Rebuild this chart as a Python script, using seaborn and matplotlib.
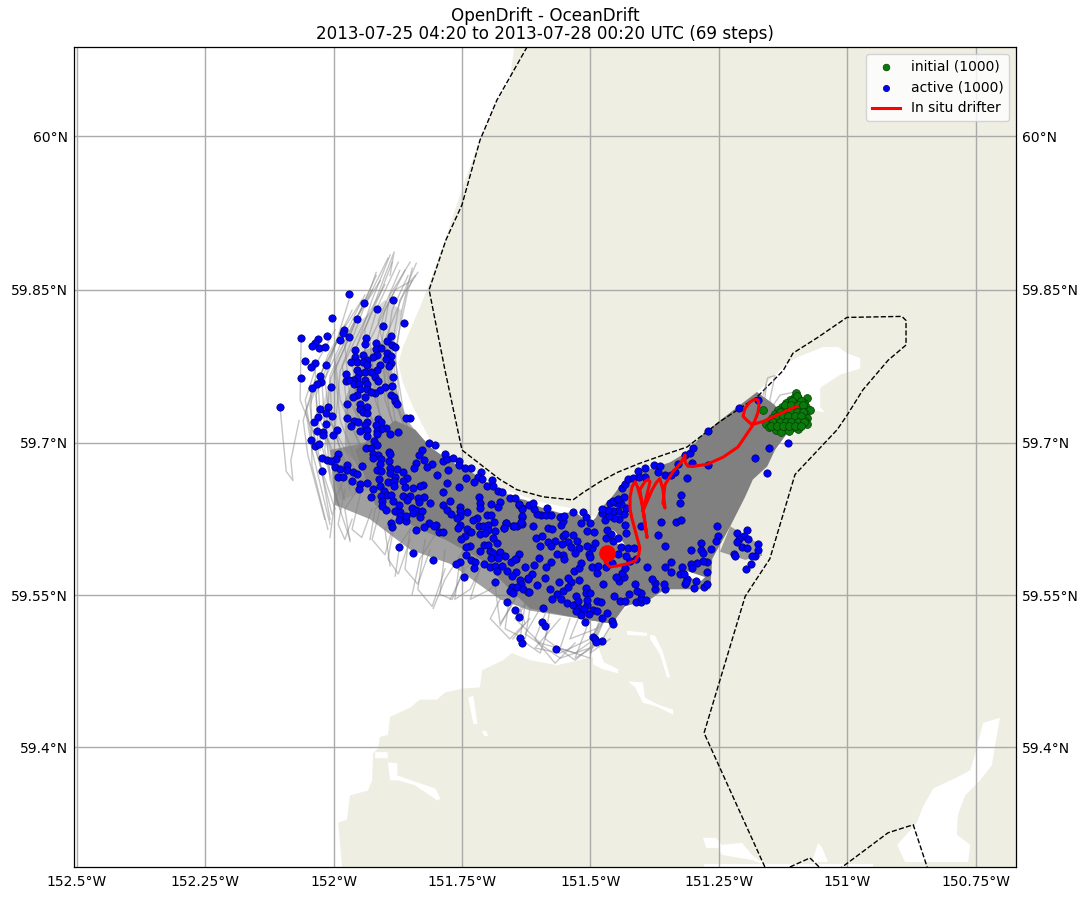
import numpy as np
import pandas as pd
import seaborn as sns
import matplotlib
matplotlib.use('Agg')
import matplotlib.pyplot as plt

# all longitudes are degrees west
lon_ticks = [152.5, 152.25, 152.0, 151.75, 151.5, 151.25, 151.0, 150.75]
lon_labels = ['152.5°W', '152.25°W', '152°W', '151.75°W', '151.5°W', '151.25°W', '151°W', '150.75°W']
lat_ticks = [59.4, 59.55, 59.7, 59.85, 60.0]
lat_labels = ['59.4°N', '59.55°N', '59.7°N', '59.85°N', '60°N']

initial_lon = [151.100, 151.104, 151.096, 151.112, 151.100, 151.079, 151.119, 151.108, 151.096, 151.084,
	151.127, 151.116, 151.104, 151.092, 151.081, 151.135, 151.123, 151.112, 151.100, 151.088, 151.073,
	151.141, 151.129, 151.117, 151.106, 151.094, 151.083, 151.147, 151.135, 151.123, 151.112, 151.100,
	151.088, 151.079, 151.152, 151.141, 151.129, 151.117, 151.106, 151.094, 151.083, 151.158, 151.147,
	151.135, 151.123, 151.112, 151.100, 151.088, 151.079, 151.152, 151.141, 151.129, 151.117, 151.106,
	151.094, 151.139, 151.129, 151.114, 151.096, 151.164,
	151.098, 151.107, 151.090, 151.121, 151.109, 151.097, 151.086, 151.131, 151.120, 151.109, 151.098,
	151.087, 151.138, 151.126, 151.115, 151.103, 151.091, 151.144, 151.132, 151.120, 151.109, 151.097,
	151.085, 151.149, 151.138, 151.126, 151.114, 151.103, 151.091]
initial_lat = [59.749, 59.744, 59.744, 59.742, 59.742, 59.744, 59.739, 59.739, 59.739, 59.739,
	59.735, 59.735, 59.735, 59.735, 59.735, 59.732, 59.732, 59.732, 59.732, 59.732, 59.732,
	59.728, 59.728, 59.728, 59.728, 59.728, 59.728, 59.724, 59.724, 59.724, 59.724, 59.724,
	59.724, 59.724, 59.722, 59.722, 59.722, 59.722, 59.722, 59.722, 59.722, 59.719, 59.719,
	59.719, 59.719, 59.719, 59.719, 59.719, 59.719, 59.716, 59.716, 59.716, 59.716, 59.716,
	59.716, 59.713, 59.711, 59.712, 59.714, 59.732,
	59.746, 59.741, 59.741, 59.737, 59.737, 59.737, 59.737, 59.730, 59.730, 59.730, 59.730,
	59.730, 59.726, 59.726, 59.726, 59.726, 59.726, 59.721, 59.721, 59.721, 59.721, 59.721,
	59.721, 59.717, 59.717, 59.717, 59.717, 59.717, 59.717]

active_lon = [
	151.970, 151.941, 151.884, 151.915, 152.003, 151.954, 151.863, 151.904, 151.980, 151.982,
	152.063, 152.013, 151.970, 152.030, 151.987, 151.937, 151.888, 151.896, 152.036, 152.042,
	152.028, 152.017, 151.939, 151.917, 151.886, 151.880, 151.958, 151.917, 151.908, 151.896,
	151.888, 151.943, 151.958, 151.915, 151.923, 151.935, 151.898, 152.055, 152.036, 152.044,
	152.015, 151.966, 151.954, 151.943, 151.935, 151.888, 151.892, 151.909, 151.915, 151.954,
	151.950, 151.939, 151.927, 151.976, 152.063, 152.026, 151.884, 151.919, 151.954, 151.962,
	151.976, 151.970, 151.939, 151.913, 152.024, 152.032, 152.042, 152.005, 151.960, 151.950,
	151.935, 151.900, 151.886, 151.948, 151.935, 151.909, 151.919, 151.927, 151.954, 151.962,
	151.939, 151.888, 151.882, 151.880, 151.876, 151.974, 151.948, 151.935, 152.011, 152.026,
	151.948, 151.943, 152.104, 152.015, 152.003, 152.030, 151.935, 151.974, 151.851, 151.859,
	151.913, 152.038, 151.960, 151.952, 151.908, 151.935, 152.015, 151.966, 151.939, 151.917,
	151.898, 151.908, 152.032, 152.020, 151.993, 151.948, 151.935, 151.915, 151.874, 151.890,
	152.020, 152.001, 151.935, 151.915, 152.044, 152.036, 152.028, 151.921, 151.915, 151.937,
	151.927, 151.814, 151.802, 151.828, 151.834, 151.892, 151.923, 151.913, 151.890, 151.783,
	151.991, 152.022, 152.013, 151.995, 152.005, 151.923, 151.908, 151.824, 151.787, 151.779,
	151.767, 151.756, 151.892, 151.909, 151.840, 151.808, 151.945, 151.997, 151.974, 151.756,
	151.744, 151.732, 151.843, 151.818, 151.777, 151.890, 151.915, 151.908, 151.987, 151.974,
	151.962, 152.022, 151.876, 151.865, 151.713, 151.890, 151.954, 151.991, 151.982, 151.719,
	151.799, 151.742, 151.711, 151.691, 151.911, 151.880, 151.857, 151.964, 151.727, 151.779,
	151.935, 151.894, 151.882, 151.865, 151.948, 151.701, 151.690, 151.826, 151.909, 151.882,
	151.861, 151.832, 151.756, 151.950, 151.845, 151.923, 151.902, 151.787, 151.680, 151.672,
	151.896, 151.717, 151.927, 151.908, 151.888, 151.865, 151.851, 151.824, 151.836, 151.657,
	151.647, 151.773, 151.676, 151.857, 151.906, 151.884, 151.812, 151.834, 151.787, 151.693,
	151.715, 151.639, 151.906, 151.873, 151.680, 151.715, 151.754, 151.633, 151.847, 151.898,
	151.880, 151.871, 151.779, 151.840, 151.828, 151.740, 151.754, 151.771, 151.845, 151.701,
	151.693, 151.871, 151.832, 151.754, 151.760, 151.633, 151.721, 151.729, 151.873, 151.859,
	151.859, 151.888, 151.633, 151.688, 151.664, 151.800, 151.814, 151.754, 151.717, 151.709,
	151.699, 151.651, 151.643, 151.668, 151.886, 151.824, 151.758, 151.804, 151.740, 151.840,
	151.699, 151.686, 151.732, 151.795, 151.787, 151.715, 151.705, 151.744, 151.752, 151.690,
	151.682, 151.707, 151.699, 151.734, 151.742, 151.873, 151.715, 151.695, 151.690, 151.676,
	151.845, 151.639, 151.742, 151.666, 151.693, 151.680, 151.645, 151.806, 151.655, 151.732,
	151.725, 151.754, 151.762, 151.707, 151.727, 151.695, 151.686, 151.672, 151.627, 151.682,
	151.662, 151.645, 151.746, 151.653, 151.622, 151.637, 151.686, 151.635, 151.653, 151.643,
	151.631, 151.657, 151.651, 151.622, 151.662, 151.647, 151.639, 151.637, 151.633, 151.612,
	151.583, 151.575, 151.557, 151.553, 151.559, 151.551, 151.534, 151.515, 151.509, 151.518,
	151.501, 151.585, 151.596, 151.586, 151.577, 151.604, 151.610, 151.620, 151.612, 151.639,
	151.633, 151.633, 151.635, 151.649, 151.664, 151.668, 151.606, 151.594, 151.583, 151.569,
	151.598, 151.577, 151.553, 151.550, 151.534, 151.544, 151.526, 151.555, 151.538, 151.522,
	151.565, 151.553, 151.530, 151.551, 151.600, 151.577, 151.647, 151.610, 151.586, 151.614,
	151.622, 151.604, 151.588, 151.561, 151.579, 151.553, 151.620, 151.565, 151.575, 151.557,
	151.546, 151.534, 151.507, 151.592, 151.522, 151.513, 151.495, 151.487, 151.528, 151.518,
	151.503, 151.468, 151.477, 151.458, 151.456, 151.511, 151.594, 151.588, 151.495, 151.491,
	151.477, 151.489, 151.567, 151.509, 151.509, 151.501, 151.528, 151.524, 151.507, 151.487,
	151.479, 151.443, 151.433, 151.411, 151.402, 151.402, 151.392, 151.454, 151.425, 151.402,
	151.409, 151.374, 151.355, 151.357, 151.298, 151.279, 151.273, 151.295, 151.312, 151.316,
	151.314, 151.374, 151.380, 151.413, 151.475, 151.522, 151.538, 151.544, 151.544, 151.444,
	151.450, 151.435, 151.439, 151.487, 151.532, 151.522, 151.497, 151.485, 151.470, 151.433,
	151.390, 151.518, 151.458, 151.423, 151.411, 151.431, 151.446, 151.503, 151.501, 151.497,
	151.507, 151.491, 151.441, 151.427, 151.415, 151.456, 151.446, 151.470, 151.493, 151.507,
	151.460, 151.431, 151.468, 151.433, 151.402, 151.472, 151.444, 151.454, 151.464, 151.435,
	151.477, 151.446, 151.456, 151.466, 151.477, 151.431, 151.441, 151.448, 151.462, 151.456,
	151.446, 151.435, 151.439, 151.433, 151.427, 151.417, 151.406, 151.394, 151.408, 151.394,
	151.376, 151.365, 151.368, 151.355, 151.343, 151.335, 151.330, 151.316, 151.306, 151.300,
	151.153, 151.180, 151.271, 151.156, 151.312, 151.324, 151.326, 151.363, 151.333, 151.324,
	151.254, 151.368, 151.252, 151.215, 151.195, 151.201, 151.193, 151.211, 151.215, 151.256,
	151.285, 151.174, 151.205, 151.195, 151.265, 151.304, 151.285, 151.174, 151.355, 151.281,
	151.221, 151.219, 151.180, 151.186, 151.273, 151.281, 151.273, 151.293, 151.304, 151.322,
	151.302, 151.343, 151.355, 151.343, 151.326, 151.318, 151.188, 151.197, 151.174, 151.211,
	151.271, 151.116, 151.302]
active_lat = [
	59.846, 59.837, 59.840, 59.831, 59.822, 59.821, 59.818, 59.815, 59.811, 59.808,
	59.803, 59.805, 59.804, 59.802, 59.801, 59.803, 59.805, 59.800, 59.798, 59.795,
	59.793, 59.794, 59.797, 59.798, 59.796, 59.794, 59.791, 59.792, 59.793, 59.788,
	59.785, 59.786, 59.784, 59.786, 59.784, 59.781, 59.782, 59.780, 59.778, 59.774,
	59.776, 59.779, 59.779, 59.779, 59.776, 59.778, 59.775, 59.776, 59.772, 59.772,
	59.769, 59.770, 59.770, 59.768, 59.764, 59.766, 59.765, 59.765, 59.764, 59.762,
	59.761, 59.762, 59.762, 59.761, 59.760, 59.758, 59.754, 59.755, 59.758, 59.758,
	59.758, 59.755, 59.756, 59.753, 59.753, 59.752, 59.749, 59.750, 59.747, 59.745,
	59.745, 59.747, 59.745, 59.741, 59.738, 59.738, 59.738, 59.735, 59.735, 59.733,
	59.733, 59.730, 59.735, 59.729, 59.726, 59.725, 59.729, 59.724, 59.724, 59.724,
	59.723, 59.721, 59.722, 59.721, 59.721, 59.721, 59.719, 59.717, 59.718, 59.718,
	59.715, 59.714, 59.712, 59.711, 59.713, 59.712, 59.713, 59.712, 59.711, 59.709,
	59.708, 59.708, 59.707, 59.709, 59.703, 59.697, 59.699, 59.702, 59.698, 59.695,
	59.695, 59.700, 59.698, 59.693, 59.688, 59.691, 59.689, 59.688, 59.689, 59.689,
	59.689, 59.685, 59.683, 59.684, 59.682, 59.685, 59.684, 59.683, 59.682, 59.684,
	59.685, 59.682, 59.682, 59.679, 59.680, 59.679, 59.677, 59.676, 59.678, 59.678,
	59.675, 59.675, 59.675, 59.676, 59.673, 59.675, 59.673, 59.672, 59.674, 59.673,
	59.671, 59.672, 59.674, 59.671, 59.671, 59.670, 59.669, 59.667, 59.667, 59.667,
	59.668, 59.666, 59.665, 59.664, 59.665, 59.667, 59.666, 59.663, 59.662, 59.661,
	59.661, 59.662, 59.663, 59.663, 59.660, 59.658, 59.658, 59.659, 59.658, 59.658,
	59.657, 59.658, 59.657, 59.655, 59.656, 59.655, 59.653, 59.652, 59.653, 59.652,
	59.649, 59.647, 59.647, 59.648, 59.649, 59.648, 59.648, 59.647, 59.646, 59.646,
	59.646, 59.643, 59.642, 59.644, 59.643, 59.643, 59.641, 59.642, 59.639, 59.640,
	59.641, 59.639, 59.638, 59.639, 59.637, 59.636, 59.637, 59.636, 59.636, 59.634,
	59.633, 59.632, 59.634, 59.634, 59.633, 59.632, 59.633, 59.630, 59.631, 59.629,
	59.629, 59.628, 59.627, 59.628, 59.626, 59.627, 59.626, 59.624, 59.624, 59.623,
	59.628, 59.621, 59.620, 59.622, 59.621, 59.619, 59.621, 59.619, 59.618, 59.618,
	59.619, 59.618, 59.618, 59.616, 59.617, 59.617, 59.616, 59.618, 59.615, 59.614,
	59.614, 59.613, 59.612, 59.612, 59.612, 59.610, 59.611, 59.608, 59.606, 59.607,
	59.602, 59.600, 59.600, 59.599, 59.598, 59.598, 59.594, 59.594, 59.592, 59.593,
	59.592, 59.591, 59.590, 59.589, 59.587, 59.587, 59.586, 59.585, 59.583, 59.585,
	59.583, 59.583, 59.581, 59.581, 59.577, 59.578, 59.579, 59.579, 59.578, 59.574,
	59.574, 59.573, 59.568, 59.569, 59.566, 59.565, 59.563, 59.561, 59.558, 59.558,
	59.556, 59.554, 59.552, 59.553, 59.543, 59.536, 59.529, 59.508, 59.503, 59.618,
	59.616, 59.615, 59.619, 59.623, 59.627, 59.628, 59.632, 59.632, 59.627, 59.621,
	59.621, 59.636, 59.629, 59.629, 59.629, 59.630, 59.635, 59.639, 59.641, 59.640,
	59.635, 59.628, 59.622, 59.618, 59.621, 59.616, 59.607, 59.608, 59.603, 59.604,
	59.599, 59.599, 59.608, 59.610, 59.609, 59.603, 59.604, 59.601, 59.598, 59.597,
	59.591, 59.590, 59.592, 59.586, 59.587, 59.583, 59.586, 59.580, 59.578, 59.571,
	59.567, 59.560, 59.567, 59.563, 59.556, 59.554, 59.553, 59.551, 59.546, 59.546,
	59.542, 59.540, 59.540, 59.538, 59.538, 59.537, 59.536, 59.535, 59.535, 59.531,
	59.532, 59.533, 59.528, 59.525, 59.522, 59.524, 59.524, 59.520, 59.509, 59.507,
	59.505, 59.504, 59.497, 59.557, 59.552, 59.552, 59.549, 59.544, 59.545, 59.544,
	59.543, 59.544, 59.544, 59.543, 59.543, 59.547, 59.545, 59.549, 59.551, 59.552,
	59.554, 59.556, 59.556, 59.561, 59.557, 59.558, 59.561, 59.564, 59.566, 59.561,
	59.563, 59.562, 59.566, 59.561, 59.561, 59.565, 59.563, 59.567, 59.558, 59.564,
	59.568, 59.568, 59.572, 59.572, 59.574, 59.577, 59.578, 59.579, 59.578, 59.577,
	59.578, 59.582, 59.582, 59.584, 59.586, 59.589, 59.591, 59.591, 59.588, 59.597,
	59.599, 59.602, 59.598, 59.597, 59.597, 59.604, 59.607, 59.607, 59.612, 59.613,
	59.610, 59.611, 59.614, 59.619, 59.618, 59.624, 59.625, 59.626, 59.628, 59.630,
	59.631, 59.633, 59.633, 59.634, 59.635, 59.636, 59.640, 59.641, 59.641, 59.643,
	59.645, 59.647, 59.656, 59.660, 59.665, 59.666, 59.667, 59.667, 59.672, 59.675,
	59.678, 59.677, 59.671, 59.668, 59.668, 59.671, 59.679, 59.688, 59.690, 59.695,
	59.695, 59.685, 59.678, 59.670, 59.666, 59.649, 59.641, 59.622, 59.622, 59.624,
	59.618, 59.609, 59.608, 59.611, 59.614, 59.608, 59.606, 59.606, 59.603, 59.604,
	59.602, 59.601, 59.598, 59.597, 59.596, 59.595, 59.595, 59.595, 59.599, 59.592,
	59.591, 59.589, 59.589, 59.589, 59.583, 59.584, 59.573, 59.582, 59.581, 59.578,
	59.577, 59.583, 59.578, 59.573, 59.571, 59.571, 59.581, 59.576, 59.742, 59.734,
	59.712, 59.700, 59.680]

drifter_lon = [151.098, 151.130, 151.164, 151.186, 151.195, 151.203, 151.201, 151.199, 151.190, 151.180, 151.174, 151.172,
	151.174, 151.180, 151.186, 151.213, 151.242, 151.273, 151.300, 151.310, 151.316, 151.316, 151.325, 151.339,
	151.355, 151.359, 151.355, 151.359, 151.365, 151.372, 151.380, 151.398, 151.384, 151.388, 151.394, 151.404,
	151.396, 151.390, 151.400, 151.408, 151.413, 151.419, 151.423, 151.423, 151.419, 151.404, 151.406, 151.413,
	151.430, 151.448, 151.462, 151.472, 151.468]
drifter_lat = [59.736, 59.729, 59.721, 59.718, 59.722, 59.726, 59.731, 59.734, 59.740, 59.743, 59.742, 59.737,
	59.730, 59.722, 59.716, 59.696, 59.686, 59.679, 59.677, 59.677, 59.681, 59.688, 59.680, 59.672,
	59.659, 59.641, 59.636, 59.654, 59.665, 59.661, 59.654, 59.633, 59.662, 59.664, 59.662, 59.654,
	59.630, 59.607, 59.641, 59.656, 59.662, 59.657, 59.647, 59.635, 59.625, 59.597, 59.590, 59.584,
	59.581, 59.579, 59.578, 59.583, 59.592]

# single element tracks, mostly the fringe where they can be told apart
track_lons = [
	[151.890, 151.939, 151.939, 151.900, 151.882, 151.890],
	[151.851, 151.900, 151.900, 151.861, 151.839],
	[151.871, 151.919, 151.929, 151.880, 151.851, 151.841],
	[151.910, 151.968, 151.978, 151.929, 151.917],
	[151.929, 151.987, 151.997, 151.948, 151.917],
	[151.948, 152.007, 152.017, 151.970],
	[151.978, 152.026, 152.030, 151.987, 151.945],
	[151.997, 152.042, 152.055, 152.030, 151.997],
	[152.026, 152.065, 152.063],
	[152.104, 152.100, 152.092, 152.079, 152.083, 152.067],
	[151.822, 151.871, 151.880, 151.855, 151.847],
	[151.841, 151.886, 151.913, 151.871],
	[151.880, 151.958, 151.958, 151.910, 151.886],
	[151.968, 151.997, 151.987, 151.939, 151.900],
	[151.987, 152.017, 152.007, 151.954],
	[152.007, 152.030, 152.036],
	[152.011, 152.042, 152.044],
	[151.968, 152.007, 152.015],
	[152.007, 151.997, 151.968],
	[151.968, 151.978, 151.929],
	[151.929, 151.919, 151.871],
	[151.890, 151.900, 151.851],
	[151.880, 151.871, 151.812],
	[151.847, 151.832, 151.783],
	[151.806, 151.783, 151.734],
	[151.773, 151.744, 151.695],
	[151.676, 151.637, 151.598],
	[151.651, 151.627, 151.637, 151.598],
	[151.618, 151.647, 151.598, 151.530, 151.491, 151.481],
	[151.598, 151.627, 151.559, 151.501, 151.485],
	[151.579, 151.588, 151.530, 151.497, 151.474],
	[151.559, 151.608, 151.559, 151.501, 151.462],
	[151.520, 151.540, 151.489, 151.458],
	[151.676, 151.695, 151.657, 151.618],
	[151.164, 151.155, 151.141, 151.151, 151.141],
	[151.151, 151.131, 151.102, 151.092],
	[151.158, 151.162, 151.151],
	[151.812, 151.861, 151.880, 151.867, 151.847],
	[151.832, 151.880, 151.900, 151.886, 151.855],
	[151.861, 151.909, 151.925, 151.900, 151.861],
	[151.880, 151.933, 151.945, 151.913, 151.874],
	[151.900, 151.952, 151.964, 151.925, 151.890],
	[151.919, 151.972, 151.983, 151.939, 151.894],
	[151.939, 151.987, 151.997, 151.952, 151.909],
	[151.958, 152.003, 152.007, 151.964, 151.925],
	[151.978, 152.017, 152.022, 151.978, 151.939],
	[151.991, 152.026, 152.034, 151.997, 151.964],
	[152.003, 152.036, 152.046, 152.011, 151.978],
	[152.007, 152.042, 152.054, 152.022, 151.991],
	[152.017, 152.050, 152.059, 152.036],
	[151.832, 151.874, 151.886, 151.871, 151.836],
	[151.851, 151.890, 151.909, 151.890, 151.851],
	[151.978, 151.991, 151.978, 151.964],
	[151.948, 151.964, 151.945, 151.925],
	[151.909, 151.925, 151.900, 151.886],
	[151.880, 151.894, 151.874, 151.851],
	[151.851, 151.861, 151.836, 151.812],
	[151.822, 151.836, 151.808, 151.783],
	[151.783, 151.793, 151.769, 151.744],
	[151.754, 151.764, 151.734, 151.715],
	[151.715, 151.734, 151.695, 151.676],
	[151.686, 151.676, 151.657, 151.637],
	[151.657, 151.666, 151.627, 151.618],
	[151.627, 151.637, 151.598, 151.579],
	[151.588, 151.608, 151.569, 151.530],
	[151.540, 151.559, 151.501, 151.491],
	[151.501, 151.530, 151.481, 151.458],
	[151.472, 151.501, 151.462],
]
track_lats = [
	[59.674, 59.742, 59.811, 59.864, 59.887, 59.864],
	[59.674, 59.742, 59.801, 59.850, 59.876],
	[59.674, 59.742, 59.801, 59.850, 59.858, 59.864],
	[59.674, 59.742, 59.796, 59.850, 59.867],
	[59.674, 59.742, 59.781, 59.830, 59.864],
	[59.664, 59.722, 59.762, 59.840],
	[59.664, 59.722, 59.762, 59.806, 59.840],
	[59.635, 59.703, 59.742, 59.781, 59.811],
	[59.693, 59.742, 59.803],
	[59.735, 59.713, 59.672, 59.663, 59.683, 59.722],
	[59.674, 59.732, 59.791, 59.850, 59.859],
	[59.683, 59.752, 59.820, 59.869],
	[59.664, 59.732, 59.791, 59.845, 59.877],
	[59.654, 59.713, 59.771, 59.820, 59.855],
	[59.635, 59.693, 59.762, 59.821],
	[59.625, 59.693, 59.778],
	[59.615, 59.678, 59.754],
	[59.605, 59.664, 59.719],
	[59.607, 59.644, 59.678],
	[59.603, 59.635, 59.674],
	[59.605, 59.635, 59.664],
	[59.579, 59.615, 59.654],
	[59.569, 59.600, 59.644],
	[59.551, 59.586, 59.625],
	[59.537, 59.566, 59.605],
	[59.546, 59.576, 59.600],
	[59.520, 59.556, 59.576],
	[59.507, 59.522, 59.537, 59.556],
	[59.546, 59.527, 59.503, 59.493, 59.507, 59.527],
	[59.537, 59.512, 59.488, 59.498, 59.522],
	[59.537, 59.507, 59.486, 59.500, 59.527],
	[59.527, 59.498, 59.493, 59.507, 59.532],
	[59.532, 59.507, 59.517, 59.537],
	[59.546, 59.527, 59.507, 59.527],
	[59.747, 59.764, 59.766, 59.742, 59.730],
	[59.732, 59.747, 59.750, 59.742],
	[59.757, 59.737, 59.727],
	[59.674, 59.722, 59.781, 59.830, 59.871],
	[59.664, 59.722, 59.781, 59.830, 59.864],
	[59.664, 59.722, 59.781, 59.830, 59.869],
	[59.674, 59.732, 59.781, 59.835, 59.877],
	[59.664, 59.727, 59.781, 59.840, 59.884],
	[59.664, 59.727, 59.776, 59.835, 59.881],
	[59.659, 59.722, 59.771, 59.825, 59.859],
	[59.654, 59.718, 59.766, 59.815, 59.850],
	[59.644, 59.713, 59.757, 59.806, 59.845],
	[59.639, 59.703, 59.747, 59.796, 59.830],
	[59.630, 59.698, 59.737, 59.786, 59.815],
	[59.620, 59.693, 59.732, 59.771, 59.801],
	[59.625, 59.688, 59.722, 59.762],
	[59.674, 59.732, 59.796, 59.840, 59.867],
	[59.669, 59.727, 59.791, 59.845, 59.877],
	[59.654, 59.620, 59.605, 59.625],
	[59.649, 59.615, 59.607, 59.635],
	[59.635, 59.605, 59.590, 59.615],
	[59.625, 59.586, 59.571, 59.605],
	[59.615, 59.576, 59.561, 59.595],
	[59.605, 59.556, 59.539, 59.576],
	[59.595, 59.551, 59.546, 59.581],
	[59.586, 59.546, 59.556, 59.576],
	[59.576, 59.546, 59.556, 59.566],
	[59.561, 59.522, 59.537, 59.556],
	[59.551, 59.517, 59.507, 59.537],
	[59.542, 59.507, 59.493, 59.522],
	[59.532, 59.507, 59.483, 59.503],
	[59.527, 59.498, 59.488, 59.517],
	[59.527, 59.488, 59.503, 59.522],
	[59.527, 59.493, 59.507],
]

# where the tracks overlap so much they merge to solid grey
core_lon = [151.176, 151.248, 151.287, 151.306, 151.345, 151.404, 151.433, 151.458, 151.481, 151.489, 151.501,
	151.530, 151.559, 151.598, 151.627, 151.657, 151.695, 151.734, 151.773, 151.812, 151.841, 151.880, 151.958,
	151.919, 151.832, 151.783, 151.715, 151.657, 151.618, 151.520, 151.458, 151.433, 151.384, 151.355, 151.306,
	151.267, 151.263, 151.228, 151.199, 151.184, 151.156, 151.141, 151.112, 151.141]
core_lat = [59.750, 59.722, 59.706, 59.693, 59.681, 59.671, 59.664, 59.647, 59.635, 59.627, 59.621,
	59.632, 59.631, 59.637, 59.644, 59.647, 59.659, 59.672, 59.682, 59.696, 59.713, 59.722, 59.693,
	59.639, 59.615, 59.605, 59.586, 59.556, 59.537, 59.527, 59.522, 59.539, 59.546, 59.556, 59.556,
	59.556, 59.586, 59.618, 59.647, 59.664, 59.677, 59.693, 59.713, 59.737]
lobe_lon = [151.228, 151.170, 151.166, 151.199, 151.248]
lobe_lat = [59.618, 59.600, 59.589, 59.585, 59.593]
fan_lon = [151.900, 151.867, 151.871, 151.886, 151.880, 151.851, 151.812, 151.871, 151.987,
	152.017, 152.022, 151.997, 151.958]
fan_lat = [59.840, 59.830, 59.820, 59.786, 59.752, 59.718, 59.696, 59.664, 59.644,
	59.703, 59.737, 59.776, 59.815]
fan_inner_lon = [151.886, 151.886, 151.861, 151.822, 151.929, 151.978, 151.978, 151.939]
fan_inner_lat = [59.801, 59.767, 59.727, 59.696, 59.664, 59.693, 59.742, 59.791]
fringe_lon = [152.007, 151.997, 151.929, 151.851, 151.773, 151.676, 151.618, 151.458, 151.501, 151.773, 151.910]
fringe_lat = [59.693, 59.639, 59.625, 59.595, 59.581, 59.546, 59.535, 59.522, 59.615, 59.674, 59.703]

# the axes background is land, the sea is painted on it
sea_lon = [152.6, 151.645, 151.657, 151.686, 151.715, 151.744, 151.783, 151.818, 151.837, 151.865, 151.874, 151.865,
	151.845, 151.812, 151.773, 151.725, 151.666, 151.598, 151.530, 151.489, 151.404, 151.287, 151.209, 151.176,
	151.117, 151.098, 151.047, 151.018, 151.001, 150.975, 150.975, 151.014, 151.053, 151.053, 151.044, 151.067,
	151.077, 151.117, 151.141, 151.184, 151.199, 151.219, 151.287, 151.433, 151.458, 151.481, 151.495, 151.565,
	151.618, 151.653, 151.670, 151.711, 151.715, 151.748, 151.783, 151.799, 151.832, 151.851, 151.890, 151.894,
	151.910, 151.913, 151.923, 151.925, 151.933, 151.968, 151.974, 151.991, 151.984, 151.984, 152.6]
sea_lat = [60.1, 60.1, 60.054, 60.030, 59.996, 59.957, 59.899, 59.850, 59.827, 59.794, 59.778, 59.759,
	59.735, 59.703, 59.685, 59.669, 59.654, 59.642, 59.635, 59.627, 59.644, 59.693, 59.722, 59.750,
	59.778, 59.784, 59.794, 59.794, 59.788, 59.783, 59.773, 59.767, 59.754, 59.735, 59.730, 59.732,
	59.718, 59.703, 59.693, 59.664, 59.647, 59.630, 59.576, 59.537, 59.525, 59.503, 59.489, 59.481,
	59.486, 59.493, 59.486, 59.476, 59.459, 59.458, 59.454, 59.447, 59.447, 59.439, 59.430, 59.412,
	59.410, 59.399, 59.394, 59.367, 59.357, 59.352, 59.328, 59.325, 59.285, 59.27, 59.27]
inlet_lons = [
	[151.429, 151.390, 151.390, 151.429],
	[151.384, 151.374, 151.359, 151.345, 151.351, 151.365, 151.384],
	[151.495, 151.485, 151.474, 151.446, 151.446, 151.476, 151.495],
	[151.427, 151.398, 151.394, 151.368, 151.339, 151.339, 151.370, 151.398, 151.413],
	[151.738, 151.728, 151.720, 151.728],
	[151.711, 151.703, 151.699, 151.707],
	[151.919, 151.895, 151.894, 151.876, 151.876, 151.837, 151.802, 151.792, 151.798, 151.812, 151.841, 151.874, 151.890, 151.895, 151.919],
	[150.736, 150.703, 150.711, 150.719, 150.742, 150.771, 150.785, 150.787, 150.761, 150.765, 150.888, 150.903, 150.865, 150.853, 150.833, 150.787, 150.761, 150.752],
	[151.281, 151.256, 151.244, 151.205, 151.186, 151.156, 151.186, 151.244, 151.252, 151.275],
	[151.057, 151.049, 151.038, 151.069],
	[151.28, 150.95, 150.95, 151.28],
	[151.470, 151.452, 151.433, 151.446, 151.466],
	[151.312, 151.277, 151.285, 151.312],
]
inlet_lats = [
	[59.515, 59.513, 59.510, 59.511],
	[59.511, 59.510, 59.494, 59.469, 59.469, 59.492, 59.507],
	[59.495, 59.499, 59.484, 59.477, 59.473, 59.477, 59.482],
	[59.465, 59.464, 59.449, 59.442, 59.437, 59.432, 59.440, 59.444, 59.459],
	[59.449, 59.451, 59.423, 59.423],
	[59.416, 59.416, 59.411, 59.411],
	[59.395, 59.395, 59.385, 59.384, 59.372, 59.365, 59.359, 59.349, 59.347, 59.352, 59.362, 59.367, 59.367, 59.389, 59.389],
	[59.424, 59.429, 59.407, 59.382, 59.367, 59.352, 59.333, 59.313, 59.303, 59.286, 59.286, 59.303, 59.325, 59.341, 59.359, 59.370, 59.377, 59.392],
	[59.310, 59.310, 59.303, 59.305, 59.293, 59.282, 59.288, 59.293, 59.300, 59.300],
	[59.305, 59.300, 59.286, 59.286],
	[59.284, 59.284, 59.28, 59.28],
	[59.618, 59.613, 59.600, 59.600, 59.610],
	[59.574, 59.568, 59.564, 59.568],
]

# the dashed model domain outline
domain_lons = [
	[151.616, 151.682, 151.715, 151.750, 151.781, 151.814, 151.783, 151.750, 151.676, 151.643, 151.592, 151.534,
		151.515, 151.481, 151.448, 151.404, 151.359, 151.312, 151.248, 151.176, 151.125, 151.106, 151.059, 151.001,
		150.894, 150.886, 150.886, 150.921, 150.970, 151.001, 151.020, 151.102, 151.151, 151.199, 151.279, 151.158],
	[151.125, 151.073, 151.049],
	[151.018, 150.921, 150.872, 150.843],
]
domain_lats = [
	[60.093, 60.035, 59.996, 59.933, 59.899, 59.850, 59.771, 59.693, 59.664, 59.654, 59.647, 59.644,
		59.651, 59.662, 59.671, 59.680, 59.688, 59.696, 59.721, 59.745, 59.771, 59.788, 59.803, 59.823,
		59.824, 59.820, 59.796, 59.781, 59.752, 59.727, 59.713, 59.669, 59.586, 59.549, 59.414, 59.278],
	[59.278, 59.290, 59.278],
	[59.278, 59.315, 59.323, 59.278],
]


def merc(lat):
	lat = np.radians(np.clip(lat, 1, 89))
	return np.log(np.tan(np.pi / 4 + lat / 2))


def inv_merc(y):
	return np.degrees(2 * np.arctan(np.exp(y)) - np.pi / 2)


def west(lon):
	return -np.array(lon)


fig = plt.figure(figsize=(10.9, 8.98), dpi=100)
ax = fig.add_axes([74 / 1090, 1 - 867 / 898, 942 / 1090, 820 / 898])
ax.set_facecolor('#eeeee2')
ax.set_yscale('function', functions=(merc, inv_merc))

ax.fill(west(sea_lon), sea_lat, color='white', lw=0, zorder=0.2)
for lons, lats in zip(inlet_lons[:-2], inlet_lats[:-2]):
	ax.fill(west(lons), lats, color='white', lw=0, zorder=0.2)

for lons, lats in zip(domain_lons, domain_lats):
	ax.plot(west(lons), lats, color='k', ls='--', lw=1, zorder=1.5)

ax.fill(west(fan_lon), fan_lat, color='gray', alpha=0.3, lw=0, zorder=1)
ax.fill(west(fan_inner_lon), fan_inner_lat, color='gray', alpha=0.5, lw=0, zorder=1)
ax.fill(west(fringe_lon), fringe_lat, color='gray', alpha=0.75, lw=0, zorder=1)
ax.fill(west(lobe_lon), lobe_lat, color='gray', alpha=0.75, lw=0, zorder=1)
ax.fill(west(core_lon), core_lat, color='gray', lw=0, zorder=1)
for lons, lats in zip(inlet_lons[-2:], inlet_lats[-2:]):
	ax.fill(west(lons), lats, color='white', lw=0, zorder=1.1)

rows = []
for i, (lons, lats) in enumerate(zip(track_lons, track_lats)):
	for lo, la in zip(lons, lats):
		rows.append([i, -lo, la])
tracks = pd.DataFrame(rows, columns=['track', 'lon', 'lat'])
sns.lineplot(data=tracks, x='lon', y='lat', units='track', estimator=None, sort=False,
	color='gray', alpha=0.45, lw=1, legend=False, ax=ax, zorder=2)

sns.scatterplot(x=west(initial_lon), y=initial_lat, s=32, color='#0a7a0a', edgecolor='#043d04', linewidth=0.5,
	label='initial (1000)', ax=ax, zorder=3)
sns.scatterplot(x=west(active_lon), y=active_lat, s=28, color='blue', edgecolor='#00006b', linewidth=0.5,
	label='active (1000)', ax=ax, zorder=4)
ax.plot(west(drifter_lon), drifter_lat, color='red', lw=2.2, label='In situ drifter', zorder=5,
	solid_joinstyle='round')
ax.plot(west(drifter_lon[-1:]), drifter_lat[-1:], 'o', color='red', ms=11, zorder=5)

ax.set_xlim(-152.505, -150.672)
ax.set_ylim(59.281, 60.0865)
ax.set_xticks(west(lon_ticks), lon_labels)
ax.set_yticks(lat_ticks, lat_labels)
ax.minorticks_off()
ax.set_xlabel('')
ax.set_ylabel('')
ax.tick_params(axis='both', length=0, labelsize=10)
ax.tick_params(axis='y', labelleft=True, labelright=True, pad=4.5)
ax.tick_params(axis='x', pad=6)
ax.grid(True, color='#aaaaaa', lw=1)
ax.set_axisbelow(True)
for sp in ax.spines.values():
	sp.set_linewidth(0.9)
	sp.set_zorder(6)

ax.set_title('OpenDrift - OceanDrift\n2013-07-25 04:20 to 2013-07-28 00:20 UTC (69 steps)', fontsize=12.1, linespacing=1.0)
leg = ax.legend(loc='upper right', fontsize=10, markerscale=0.85)
leg.set_zorder(7)

fig.savefig('out.png', dpi=100)
